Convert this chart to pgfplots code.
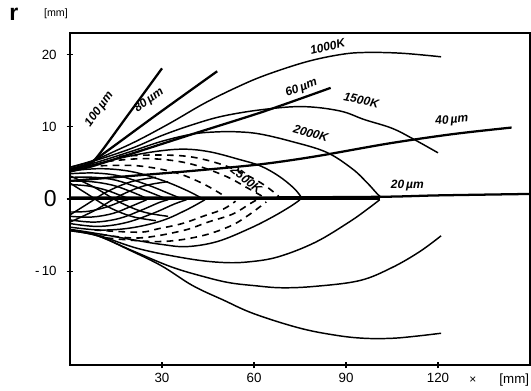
\documentclass[border=0pt]{standalone}
\usepackage{pgfplots}
\pgfplotsset{compat=1.18}
\usepackage{fontspec}
\setmainfont{Liberation Sans}
\tikzset{
  iso/.style={black, line width=1.1pt, smooth, tension=0.6, mark=none},
  part/.style={black, line width=1.7pt, smooth, tension=0.5, mark=none},
  dsh/.style={black, line width=1.2pt, dash pattern=on 5pt off 4pt, smooth, tension=0.6, mark=none},
  lab/.style={font=\small\bfseries\itshape, inner sep=1pt},
}
\begin{document}
\begin{tikzpicture}
\begin{axis}[
  scale only axis, width=345pt, height=249pt,
  xmin=0, xmax=150, ymin=-23, ymax=23,
  axis line style={line width=1.2pt},
  xtick={30,60,90,120}, ytick={-10,0,10,20},
  yticklabels={{-\,10},{\LARGE 0},{10},{20}},
  xtick pos=bottom, ytick pos=left,
  tick align=center, major tick length=5pt,
  tick style={line width=1pt, black},
  /pgf/number format/assume math mode=true,
  ticklabel style={font=\normalsize},
  yticklabel style={xshift=-4pt},
  clip=false,
]
% ---- upper isotherms ----
\addplot[iso] coordinates {(0,4.4) (8,5.4) (15,6.7) (22.5,8.2) (33,10.6) (44,13.3) (55,15.6) (64,17.2) (77,19) (88,20) (96,20.3) (108,20.2) (121,19.7)};
\addplot[iso] coordinates {(0,4.4) (8,5.3) (20,7) (30,8.8) (40,10.3) (50,11.5) (63,12.4) (76,12.8) (88,12.2) (96,11) (105,9.8) (112,8.3) (120,6.4)};
\addplot[iso] coordinates {(0,4.2) (8,5) (20,6.6) (30,8) (40,9) (48,9.3) (55,9.3) (62,9) (72,8) (83.5,6.5) (92,4.2) (97,2.2) (100,0.8) (101.5,0.2)};
\addplot[iso] coordinates {(0,4) (8,4.8) (20,6) (30,6.7) (38,6.9) (46,6.5) (55,5.5) (62,4.6) (68,3.2) (73,1.5) (75.5,0.2)};
% ---- lower isotherms ----
\addplot[iso] coordinates {(0,-4.4) (9,-5.1) (20,-7.2) (30,-9.3) (40,-12) (50,-14) (60,-15.9) (75,-17.9) (87,-18.9) (96,-19.3) (105,-19.3) (113,-19) (121,-18.6)};
\addplot[iso] coordinates {(0,-4.4) (9,-5.1) (20,-7.1) (33,-9.4) (44,-10.8) (52,-11.6) (60,-12) (69,-12.3) (80,-12.1) (94.5,-11.3) (105,-9.5) (114,-7.3) (121,-5.1)};
\addplot[iso] coordinates {(0,-4.3) (9,-5) (22.5,-6.9) (39,-8.3) (50,-8.8) (58.5,-8.7) (68,-8) (80,-6) (91,-3.2) (97,-1.4) (101,-0.1)};
\addplot[iso] coordinates {(0,-4.2) (9,-4.8) (22.5,-5.8) (30,-6.3) (38,-6.6) (48,-5.9) (58.5,-4.1) (66,-2.5) (72,-1) (75,-0.1)};
% ---- inner lenses ----
\addplot[iso] coordinates {(0,3.9) (10,4.2) (20,3.8) (30,2.6) (38,1.2) (43,0.1)};
\addplot[iso] coordinates {(0,3.5) (8,3.6) (16,3.2) (25,2) (32,0.8) (36,0.1)};
\addplot[iso] coordinates {(0,3) (8,3) (15,2.6) (22,1.6) (28,0.6) (31,0.1)};
\addplot[iso] coordinates {(0,2.5) (7,2.4) (14,1.9) (20,1) (25,0.1)};
\addplot[iso] coordinates {(0,2) (6,1.8) (12,1.2) (17,0.4) (19,0.1)};
\addplot[iso] coordinates {(0,-3.9) (10,-4.3) (20,-4) (30,-3) (38,-1.5) (44,-0.1)};
\addplot[iso] coordinates {(0,-3.4) (9,-3.8) (18,-3.3) (27,-2) (34,-0.7) (38,-0.1)};
\addplot[iso] coordinates {(0,-2.9) (8,-3.2) (16,-2.7) (23,-1.6) (29,-0.5) (32,-0.1)};
\addplot[iso] coordinates {(0,-2.4) (7,-2.5) (14,-2) (20,-1) (25,-0.1)};
\addplot[iso] coordinates {(0,-1.8) (6,-1.7) (12,-1.1) (17,-0.3) (19,-0.1)};
% crossing lines near the nozzle
\addplot[iso] coordinates {(0,3.2) (8,1.6) (16,-0.4) (24,-1.8) (32,-2.4)};
\addplot[iso] coordinates {(0,-3.2) (8,-1.6) (16,0.4) (24,1.8) (32,2.4)};
\addplot[iso] coordinates {(0,2.2) (6,0.6) (12,-1) (20,-2.4) (28,-3)};
\addplot[iso] coordinates {(0,-2.2) (6,-0.6) (12,1) (20,2.4) (28,3)};
% ---- dashed curves ----
\addplot[dsh] coordinates {(10,4.6) (22,4.6) (34,3.7) (43,2.2) (50,0.5)};
\addplot[dsh] coordinates {(12,5.2) (25,5.6) (38,5) (50,3.3) (58,1.5) (63,0.3)};
\addplot[dsh] coordinates {(16,5.9) (28,6.1) (40,5.8) (52,4.4) (62,2.3) (68,0.4)};
\addplot[dsh] coordinates {(8,-4.3) (22.5,-4.6) (29,-4.1) (36.6,-3.4) (44,-2.3) (50,-1.4) (54,-0.3)};
\addplot[dsh] coordinates {(10,-4.9) (22.5,-5.4) (36.6,-4.4) (45,-3.2) (53,-2.1) (58.5,-0.7) (61,-0.1)};
\addplot[dsh] coordinates {(12,-5.4) (29,-5.9) (42,-5.2) (52,-3.8) (58,-2.3) (64,-0.4)};
% ---- particle trajectories ----
\addplot[part] coordinates {(0,4) (4,4.5) (8,5.4) (19,11.7) (30,18.1)};
\addplot[part] coordinates {(0,4.1) (4,4.6) (8,5.4) (28,11.6) (48,17.7)};
\addplot[part] coordinates {(0,3.8) (5,4.3) (10,4.9) (40,9) (63,12.1) (85,15.4)};
\addplot[part] coordinates {(0,2.5) (20,3.2) (40,3.9) (62,4.8) (80,5.9) (104,7.7) (125,9) (144,9.9)};
\addplot[part] coordinates {(0,0.2) (50,0.2) (100,0.3) (120,0.5) (150,0.7)};
\addplot[black, line width=1.4pt, mark=none] coordinates {(0,0) (101,0)};
% ---- labels ----
\node[lab, rotate=54] at (axis cs:9.6,12.4) {100\,µm};
\node[lab, rotate=36] at (axis cs:25.8,13.6) {80\,µm};
\node[lab, rotate=21] at (axis cs:75.5,15.4) {60\,µm};
\node[lab, rotate=14] at (axis cs:84,21.1) {1000K};
\node[lab, rotate=-12] at (axis cs:95,13.7) {1500K};
\node[lab, rotate=-16] at (axis cs:78.5,9.1) {2000K};
\node[lab, rotate=-38] at (axis cs:57.5,2.7) {2500K};
\node[lab, rotate=5] at (axis cs:124.5,10.9) {40\,µm};
\node[lab] at (axis cs:110,1.9) {20\,µm};
\node[font=\LARGE\bfseries] at (axis cs:-18.3,25.6) {r};
\node[font=\footnotesize] at (axis cs:-4.6,25.7) {[mm]};
\node[font=\small] at (axis cs:131.4,-25.1) {×};
\node[font=\normalsize, anchor=west] at (axis cs:138.5,-25.1) {[mm]};
\end{axis}
\pgfresetboundingbox
\path[use as bounding box] ([shift={(-52.5pt,-19.5pt)}]current axis.south west) rectangle ([shift={(0.75pt,24.75pt)}]current axis.north east);
\end{tikzpicture}
\end{document}
